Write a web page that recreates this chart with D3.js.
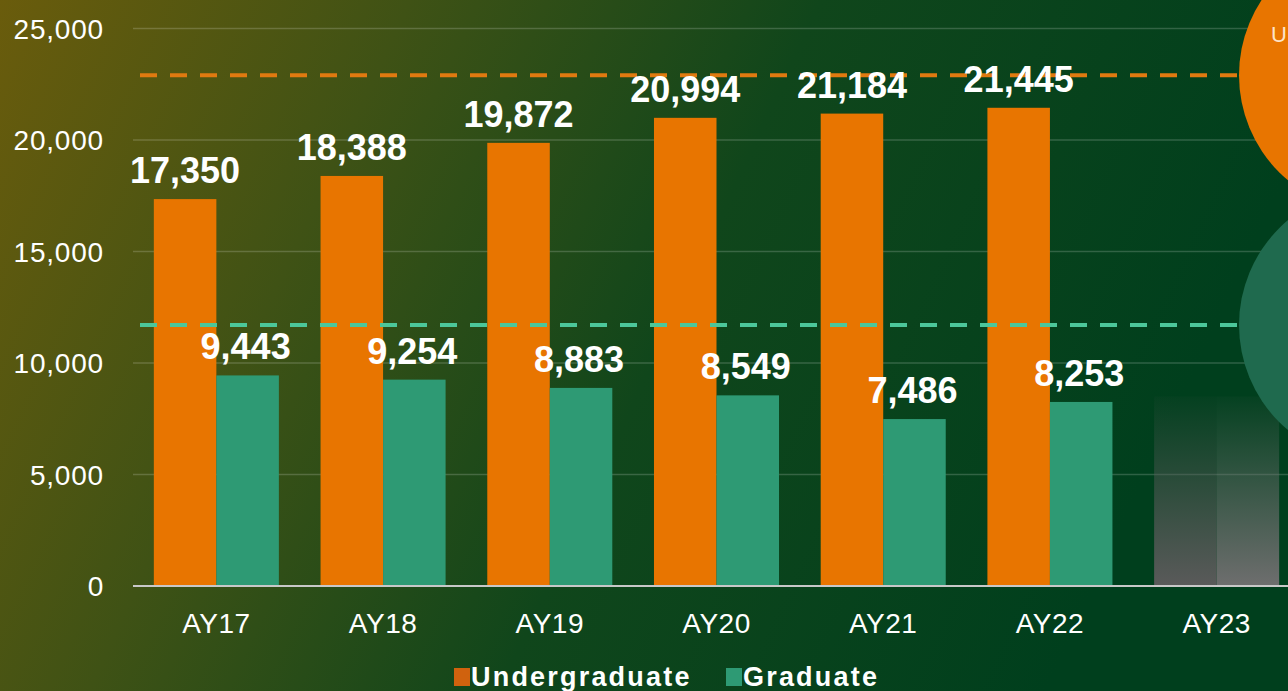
<!DOCTYPE html>
<html>
<head>
<meta charset="utf-8">
<script src="https://cdn.jsdelivr.net/npm/d3@7"></script>
<style>
  html, body { margin: 0; padding: 0; overflow: hidden; }
  body { width: 1288px; height: 691px; }
  text { font-family: "Liberation Sans", Arial, sans-serif; fill: #fff; }
</style>
</head>
<body>
<svg id="chart" width="1288" height="691"></svg>
<script>
// data
var years = ['AY17', 'AY18', 'AY19', 'AY20', 'AY21', 'AY22', 'AY23'];
var undergrad = [17350, 18388, 19872, 20994, 21184, 21445, null];
var graduate = [9443, 9254, 8883, 8549, 7486, 8253, null];
var placeholder = [8500, 8500];          // faded AY23 bars (no value yet)
var targets = [22900, 11700];            // dashed reference lines
var yTicks = [0, 5000, 10000, 15000, 20000, 25000];

var svg = d3.select('#chart');
var W = 1288, H = 691;

var defs = svg.append('defs');

// background gradient (olive to dark green)
var bg = defs.append('linearGradient').attr('id', 'bg')
  .attr('x1', '0%').attr('y1', '0%').attr('x2', '100%').attr('y2', '25%');
bg.append('stop').attr('offset', '0%').attr('stop-color', '#6a5c0c');
bg.append('stop').attr('offset', '30%').attr('stop-color', '#3f5215');
bg.append('stop').attr('offset', '60%').attr('stop-color', '#10461b');
bg.append('stop').attr('offset', '100%').attr('stop-color', '#003f1d');
svg.append('rect').attr('width', W).attr('height', H).attr('fill', 'url(#bg)');

// fade gradients for AY23 placeholders
var fadeCols = ['#5a5a5a', '#6e6e6e'];
fadeCols.forEach(function (c, i) {
  var g = defs.append('linearGradient').attr('id', 'fade' + i)
    .attr('x1', 0).attr('y1', 0).attr('x2', 0).attr('y2', 1);
  g.append('stop').attr('offset', '0%').attr('stop-color', c).attr('stop-opacity', 0.05);
  g.append('stop').attr('offset', '100%').attr('stop-color', c).attr('stop-opacity', 1);
});

var left = 133, right = 1300, top0 = 28.5, bottom = 586;

var x = d3.scaleBand().domain(years).range([left, right])
  .paddingInner(0.25).paddingOuter(0.125);
var x1 = d3.scaleBand().domain([0, 1]).range([0, x.bandwidth()]);
var y = d3.scaleLinear().domain([0, 25000]).range([bottom, top0]);
var fmt = d3.format(',');

// gridlines
svg.append('g').selectAll('line')
  .data(yTicks.slice(1)).enter().append('line')
  .attr('x1', left).attr('x2', W)
  .attr('y1', function (d) { return y(d); })
  .attr('y2', function (d) { return y(d); })
  .attr('stroke', 'rgba(255,255,255,0.18)').attr('stroke-width', 1.5);

// y axis labels
var yAxis = d3.axisLeft(y).tickValues(yTicks).tickFormat(fmt).tickSize(0).tickPadding(0);
var ya = svg.append('g').attr('transform', 'translate(104,0)').call(yAxis);
ya.select('.domain').remove();
ya.selectAll('text').attr('fill', '#fff').attr('font-size', 28)
  .attr('letter-spacing', 0.8)
  .attr('dy', '0.35em').style('font-family', '"Liberation Sans", Arial, sans-serif');

// bars
var series = [
  { vals: undergrad, color: '#e87500' },
  { vals: graduate, color: '#2e9a74' }
];
series.forEach(function (s, si) {
  var rows = years.map(function (yr, i) { return { yr: yr, v: s.vals[i] }; })
    .filter(function (d) { return d.v != null; });
  svg.append('g').selectAll('rect').data(rows).enter().append('rect')
    .attr('x', function (d) { return x(d.yr) + x1(si); })
    .attr('y', function (d) { return y(d.v); })
    .attr('width', x1.bandwidth())
    .attr('height', function (d) { return bottom - y(d.v); })
    .attr('fill', s.color);
});

// placeholder AY23 bars
svg.append('g').selectAll('rect').data(placeholder).enter().append('rect')
  .attr('x', function (d, i) { return x('AY23') + x1(i); })
  .attr('y', function (d) { return y(d); })
  .attr('width', x1.bandwidth())
  .attr('height', function (d) { return bottom - y(d); })
  .attr('fill', function (d, i) { return 'url(#fade' + i + ')'; });

// dashed target lines
var tColors = ['#e07a10', '#4cc79a'];
svg.append('g').selectAll('line').data(targets).enter().append('line')
  .attr('x1', 140).attr('x2', W)
  .attr('y1', function (d) { return y(d); })
  .attr('y2', function (d) { return y(d); })
  .attr('stroke', function (d, i) { return tColors[i]; })
  .attr('stroke-width', 4).attr('stroke-dasharray', '17,13');

// value labels
series.forEach(function (s, si) {
  var rows = years.map(function (yr, i) { return { yr: yr, v: s.vals[i] }; })
    .filter(function (d) { return d.v != null; });
  svg.append('g').selectAll('text').data(rows).enter().append('text')
    .attr('x', function (d) { return x(d.yr) + x1(si) + x1.bandwidth() / 2 + (si === 1 ? -2 : 0); })
    .attr('y', function (d) { return y(d.v) - 16; })
    .attr('text-anchor', 'middle')
    .attr('font-size', 36).attr('font-weight', 'bold')
    .text(function (d) { return fmt(d.v); });
});

// baseline
svg.append('line').attr('x1', left).attr('x2', W)
  .attr('y1', bottom).attr('y2', bottom)
  .attr('stroke', '#c8c8c8').attr('stroke-width', 2);

// x axis labels
var xAxis = d3.axisBottom(x).tickSize(0).tickPadding(0);
var xa = svg.append('g').attr('transform', 'translate(0,' + bottom + ')').call(xAxis);
xa.select('.domain').remove();
xa.selectAll('text').attr('fill', '#fff').attr('font-size', 28)
  .attr('y', 47).attr('dy', 0).attr('letter-spacing', 0.5)
  .style('font-family', '"Liberation Sans", Arial, sans-serif');

// decorative target circles on right edge
var cColors = ['#e87500', '#1f6a4e'];
svg.append('g').selectAll('circle').data(targets).enter().append('circle')
  .attr('cx', 1376)
  .attr('cy', function (d) { return y(d); })
  .attr('r', 137)
  .attr('fill', function (d, i) { return cColors[i]; });
svg.append('text').attr('x', 1271).attr('y', 42)
  .attr('font-size', 22).style('fill', '#fde3c8').text('U');

// legend
var legend = [
  { name: 'Undergraduate', color: '#d0620e', x: 454 },
  { name: 'Graduate', color: '#2e9a74', x: 726 }
];
var lg = svg.append('g').selectAll('g').data(legend).enter().append('g')
  .attr('transform', function (d) { return 'translate(' + d.x + ',0)'; });
lg.append('rect').attr('x', 0).attr('y', 668).attr('width', 16).attr('height', 18)
  .attr('fill', function (d) { return d.color; });
lg.append('text').attr('x', 17).attr('y', 686)
  .attr('font-size', 27).attr('font-weight', 'bold')
  .attr('letter-spacing', 2.2)
  .text(function (d) { return d.name; });
</script>
</body>
</html>
